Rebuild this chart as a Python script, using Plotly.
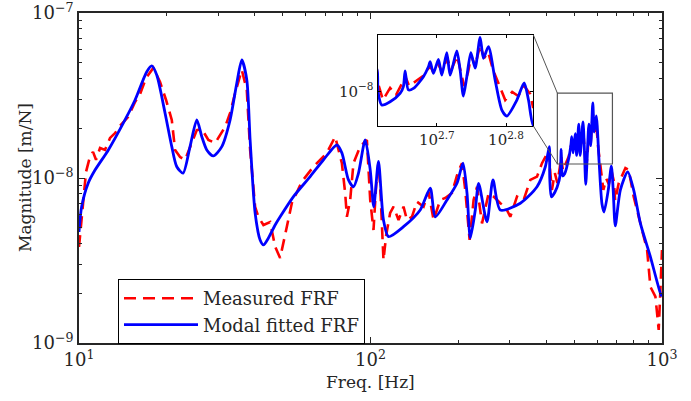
import plotly.graph_objects as go

# ---- Modal fitted FRF (blue) ----
fit_freq = [10.0, 10.21, 10.76, 11.35, 12.61, 14.38, 15.57, 17.08, 17.77, 18.48, 19.73, 20.81, 21.65, 22.75,
            24.04, 25.36, 26.38, 27.44, 28.91, 30.90, 32.99, 34.79, 36.18, 37.64, 38.64, 40.20, 41.82, 42.93,
            44.66, 47.08, 48.98, 54.41, 62.09, 68.99, 76.68, 79.76, 84.03, 87.41, 90.94, 95.9, 99.8, 102.6,
            106.5, 110.8, 115.3, 129.8, 148.1, 160.3, 166.8, 182.9, 198.0, 207.6, 214.3, 220.0, 228.8, 234.9,
            250.9, 263.1, 278.8, 326.6, 372.6, 397.9, 410.6,
            412.1, 417.3, 429.0, 443.5, 448.4, 451.0, 455.9, 463.6, 479.3, 487.4, 490.2, 495.5, 503.9, 509.6,
            518.1, 523.9, 535.7, 541.6, 547.5, 553.8, 561.3, 569.3, 578.9, 585.3, 595.1, 608.5, 622.3, 632.7,
            654.2, 670.3, 680.0, 691.4,
            719.5, 762.7, 799.7, 843.2, 912.5, 992.9, 1000.0]
fit_mag = [4.71e-9, 6.70e-9, 9.33e-9, 1.117e-8, 1.48e-8, 2.25e-8, 2.97e-8, 4.41e-8, 4.78e-8, 4.21e-8, 2.48e-8,
           1.55e-8, 1.17e-8, 1.07e-8, 1.55e-8, 2.25e-8, 1.78e-8, 1.48e-8, 1.36e-8, 1.55e-8, 2.25e-8, 3.77e-8,
           5.19e-8, 3.93e-8, 1.70e-8, 6.14e-9, 4.21e-9, 3.93e-9, 4.33e-9, 5.19e-9, 5.82e-9, 7.71e-9, 1.02e-8,
           1.29e-8, 1.585e-8, 1.42e-8, 9.73e-9, 8.85e-9, 1.07e-8, 1.70e-8, 1.117e-8, 6.70e-9, 1.26e-8, 5.56e-9,
           4.41e-9, 5.07e-9, 6.40e-9, 8.67e-9, 5.82e-9, 7.36e-9, 9.29e-9, 1.23e-8, 8.11e-9, 4.33e-9, 6.40e-9,
           9.29e-9, 5.43e-9, 9.73e-9, 6.40e-9, 7.03e-9, 8.85e-9, 1.17e-8, 1.55e-8,
           9.95e-9, 7.69e-9, 8.20e-9, 9.64e-9, 1.10e-8, 1.49e-8, 1.03e-8, 1.06e-8, 1.33e-8, 1.61e-8, 1.78e-8,
           1.42e-8, 1.86e-8, 1.37e-8, 2.12e-8, 1.37e-8, 2.19e-8, 1.51e-8, 9.16e-9, 1.33e-8, 2.12e-8, 1.57e-8,
           2.85e-8, 1.90e-8, 2.38e-8, 1.25e-8, 6.98e-9, 6.22e-9, 8.47e-9, 1.18e-8, 8.47e-9, 5.13e-9,
           8.45e-9, 1.09e-8, 8.45e-9, 5.31e-9, 3.33e-9, 1.95e-9, 1.93e-9]

# ---- Measured FRF (red dashed) ----
meas_freq = [10.0, 10.16, 10.32, 10.57, 10.91, 11.17, 11.44, 11.81, 12.28, 12.78, 13.29, 13.82, 14.73, 15.57,
             16.20, 16.98, 17.99, 18.97, 19.89, 20.81, 21.36, 22.22, 23.12, 24.37, 25.36, 26.38, 27.79, 29.31,
             31.71, 32.99, 34.32, 36.18, 37.64, 38.64, 40.20, 41.25, 42.93, 45.26, 47.08, 48.98, 50.15, 51.64,
             53.73, 58.14, 63.73, 70.86, 75.65, 79.76, 81.86, 82.99, 85.18, 87.41, 92.18, 97.19, 99.77, 102.4,
             104.6, 106.5, 108.0, 110.8, 113.2, 116.8, 120.0, 124.8, 129.8, 133.4, 138.7, 144.3, 152.1, 158.2,
             164.6, 173.5, 180.5, 190.3, 199.0, 206.0, 211.4, 218.8, 225.8, 232.0, 241.3, 254.2, 264.5, 278.8,
             290.0, 301.7, 318.1, 335.2, 353.4, 372.6, 387.6, 410.6,
             412.1, 419.0, 429.0, 437.5, 446.2, 451.0, 457.1, 466.2, 478.7, 490.2, 495.1, 503.3, 510.1, 518.7,
             525.6, 536.2, 543.4, 548.8, 556.2, 561.9, 569.3, 578.9, 586.7, 594.6, 604.5, 618.9, 629.3, 644.1,
             657.1, 670.3, 683.9, 690.7,
             710.2, 748.9, 768.6, 799.7, 843.2, 889.1, 912.5, 949.3, 962.0, 974.3, 987.4, 1000.0]
meas_mag = [3.82e-9, 5.19e-9, 7.36e-9, 1.09e-8, 1.35e-8, 1.44e-8, 1.29e-8, 1.52e-8, 1.48e-8, 1.75e-8, 1.87e-8,
            2.07e-8, 2.34e-8, 2.89e-8, 3.23e-8, 4.04e-8, 4.65e-8, 3.82e-8, 2.97e-8, 2.25e-8, 1.48e-8, 1.34e-8,
            1.29e-8, 1.63e-8, 1.95e-8, 1.98e-8, 1.70e-8, 1.63e-8, 2.04e-8, 2.48e-8, 3.27e-8, 4.52e-8, 3.41e-8,
            1.48e-8, 6.67e-9, 5.81e-9, 5.19e-9, 5.41e-9, 3.84e-9, 3.27e-9, 3.93e-9, 5.07e-9, 7.05e-9, 9.51e-9,
            1.17e-8, 1.42e-8, 1.78e-8, 1.23e-8, 8.11e-9, 5.82e-9, 7.36e-9, 1.23e-8, 1.55e-8, 1.70e-8, 7.36e-9,
            4.84e-9, 9.08e-9, 1.23e-8, 8.85e-9, 3.18e-9, 4.52e-9, 6.14e-9, 6.70e-9, 5.56e-9, 6.70e-9, 5.56e-9,
            5.82e-9, 7.18e-9, 6.70e-9, 8.26e-9, 5.56e-9, 7.36e-9, 7.57e-9, 8.11e-9, 1.07e-8, 1.23e-8, 8.45e-9,
            4.21e-9, 7.36e-9, 8.85e-9, 5.31e-9, 8.07e-9, 7.71e-9, 7.03e-9, 6.70e-9, 5.82e-9, 7.71e-9, 7.36e-9,
            9.73e-9, 1.02e-8, 1.23e-8, 1.48e-8,
            1.17e-8, 8.47e-9, 1.07e-8, 9.33e-9, 1.16e-8, 1.35e-8, 1.11e-8, 1.20e-8, 1.35e-8, 1.64e-8, 1.46e-8,
            1.70e-8, 1.46e-8, 1.91e-8, 1.51e-8, 1.99e-8, 1.46e-8, 1.11e-8, 1.46e-8, 1.99e-8, 1.64e-8, 2.45e-8,
            1.91e-8, 2.14e-8, 1.51e-8, 1.07e-8, 8.47e-9, 9.91e-9, 9.16e-9, 1.11e-8, 9.53e-9, 7.28e-9,
            9.29e-9, 1.15e-8, 1.12e-8, 7.71e-9, 5.31e-9, 3.66e-9, 2.19e-9, 1.91e-9, 1.51e-9, 1.20e-9, 2.09e-9,
            3.66e-9]

x_ticks = [10, 100, 1000]
x_ticktext = ["10<sup>1</sup>", "10<sup>2</sup>", "10<sup>3</sup>"]
y_ticks = [1e-9, 1e-8, 1e-7]
y_ticktext = ["10<sup>−9</sup>", "10<sup>−8</sup>", "10<sup>−7</sup>"]
x_minor = [20, 30, 40, 50, 60, 70, 80, 90, 200, 300, 400, 500, 600, 700, 800, 900]
y_minor = [2e-9, 3e-9, 4e-9, 5e-9, 6e-9, 7e-9, 8e-9, 9e-9, 2e-8, 3e-8, 4e-8, 5e-8, 6e-8, 7e-8, 8e-8, 9e-8]

inset_xticks = [10 ** 2.7, 10 ** 2.8]
inset_xticktext = ["10<sup>2.7</sup>", "10<sup>2.8</sup>"]
inset_yticks = [1e-8]
inset_yticktext = ["10<sup>−8</sup>"]

# zoom box (main axes, data coords) and inset ranges (log10)
box_x = [437.5, 676.0]
box_y = [1.216e-8, 3.27e-8]
inset_xrange = [2.615, 2.839]
inset_yrange = [-8.29, -7.526]

FONT = "DejaVu Serif"
AX = "#262626"
RED = "#ff0000"
BLUE = "#0000ff"

fig = go.Figure()
fig.add_trace(go.Scatter(x=meas_freq, y=meas_mag, mode="lines", name="Measured FRF",
                         line=dict(color=RED, width=2.6, dash="12px,7px")))
fig.add_trace(go.Scatter(x=fit_freq, y=fit_mag, mode="lines", name="Modal fitted FRF",
                         line=dict(color=BLUE, width=2.8, shape="spline", smoothing=0.7)))
fig.add_trace(go.Scatter(x=meas_freq, y=meas_mag, mode="lines", showlegend=False,
                         xaxis="x2", yaxis="y2",
                         line=dict(color=RED, width=2.6, dash="12px,7px")))
fig.add_trace(go.Scatter(x=fit_freq, y=fit_mag, mode="lines", showlegend=False,
                         xaxis="x2", yaxis="y2",
                         line=dict(color=BLUE, width=2.8, shape="spline", smoothing=0.7)))

axis_common = dict(type="log", showgrid=False, zeroline=False, showline=True, mirror="ticks",
                   linecolor=AX, linewidth=1.8, ticks="inside", ticklen=6, tickcolor=AX, tickwidth=1,
                   automargin=False, ticklabeloverflow="allow",
                   tickfont=dict(family=FONT, size=18, color=AX))

fig.update_layout(
    width=691, height=401,
    margin=dict(l=79, r=29, t=13, b=58, autoexpand=False),
    paper_bgcolor="white", plot_bgcolor="white",
    font=dict(family=FONT, size=17, color=AX),
    hovermode=False,
    xaxis=dict(**axis_common, range=[1, 3], domain=[0, 1], tickmode="array", tickvals=x_ticks,
               ticktext=x_ticktext,
               minor=dict(tickmode="array", tickvals=x_minor, ticks="inside", ticklen=3, tickcolor=AX)),
    yaxis=dict(**axis_common, range=[-9, -7], domain=[0, 1], tickmode="array", tickvals=y_ticks,
               ticktext=y_ticktext,
               minor=dict(tickmode="array", tickvals=y_minor, ticks="inside", ticklen=3, tickcolor=AX)),
    xaxis2=dict(type="log", range=inset_xrange, domain=[0.5129, 0.7787], anchor="y2",
                showgrid=False, zeroline=False, showline=True, mirror="ticks", linecolor="black",
                linewidth=1.5, ticks="inside", ticklen=3, tickcolor="black", tickmode="array",
                tickvals=inset_xticks, ticktext=inset_xticktext, automargin=False,
                tickfont=dict(family=FONT, size=15, color=AX)),
    yaxis2=dict(type="log", range=inset_yrange, domain=[0.6576, 0.9333], anchor="x2",
                showgrid=False, zeroline=False, showline=True, mirror="ticks", linecolor="black",
                linewidth=1.5, ticks="inside", ticklen=3, tickcolor="black", tickmode="array",
                tickvals=inset_yticks, ticktext=inset_yticktext, automargin=False,
                tickfont=dict(family=FONT, size=15, color=AX)),
    legend=dict(x=0.0669, y=0.1939, xanchor="left", yanchor="top", bgcolor="white",
                bordercolor="black", borderwidth=1, font=dict(family=FONT, size=18, color=AX),
                itemwidth=74, tracegroupgap=0),
    annotations=[
        dict(text="Freq. [Hz]", xref="paper", yref="paper", x=0.5, y=-0.118, showarrow=False,
             xanchor="center", yanchor="middle", font=dict(family=FONT, size=17, color=AX)),
        dict(text="Magnitude [m/N]", xref="paper", yref="paper", x=-0.0926, y=0.5, showarrow=False,
             textangle=-90, xanchor="center", yanchor="middle", font=dict(family=FONT, size=17, color=AX)),
    ],
    shapes=[
        dict(type="rect", xref="x", yref="y", x0=box_x[0], x1=box_x[1], y0=box_y[0], y1=box_y[1],
             line=dict(color="#555555", width=1.2)),
        dict(type="line", xref="x", yref="y", x0=362.0, y0=7.36e-8, x1=box_x[0], y1=box_y[1],
             line=dict(color="#555555", width=1)),
        dict(type="line", xref="x", yref="y", x0=362.0, y0=2.066e-8, x1=box_x[0], y1=box_y[0],
             line=dict(color="#555555", width=1)),
    ],
)

fig.write_html("out.html", config={"displayModeBar": False, "staticPlot": True},
               post_script="document.body.style.margin='0';document.body.style.overflow='hidden';")
